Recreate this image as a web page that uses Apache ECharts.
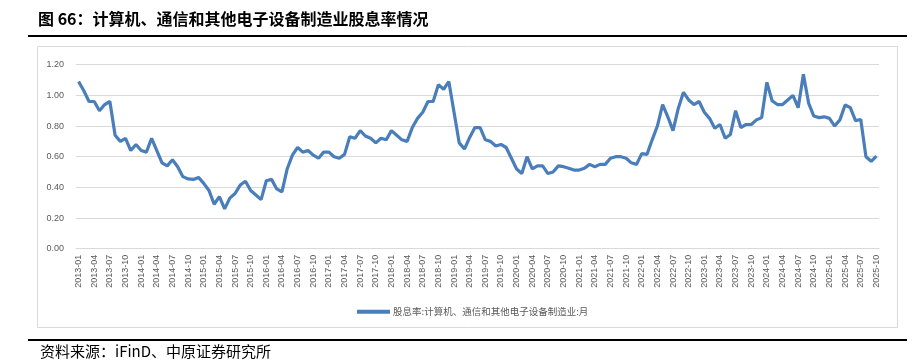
<!DOCTYPE html>
<html>
<head>
<meta charset="utf-8">
<script src="https://cdn.jsdelivr.net/npm/echarts@6/dist/echarts.min.js"></script>
<style>html,body{margin:0;padding:0;background:#fff;}#c{width:913px;height:360px;}</style>
</head>
<body>
<div id="c"></div>
<script>
const seriesName = '股息率:计算机、通信和其他电子设备制造业:月';
const startYear = 2013, startMonth = 1, monthCount = 154;
const yTicks = [0, 0.2, 0.4, 0.6, 0.8, 1.0, 1.2];
const values2013_2015 = [1.09,1.03,0.96,0.96,0.90,0.94,0.96,0.74,0.70,0.72,0.64,0.68,
  0.64,0.63,0.72,0.64,0.56,0.54,0.58,0.535,0.47,0.455,0.452,0.465,
  0.426,0.38,0.29,0.34,0.26,0.33,0.36,0.415,0.44,0.38,0.35,0.32];
const values2016_2018 = [0.443,0.452,0.39,0.37,0.52,0.61,0.66,0.63,0.64,0.61,0.59,0.63,
  0.63,0.60,0.59,0.615,0.73,0.72,0.77,0.735,0.72,0.69,0.72,0.71,
  0.77,0.74,0.71,0.70,0.79,0.85,0.89,0.96,0.96,1.07,1.04,1.09];
const values2019_2021 = [0.89,0.69,0.65,0.726,0.79,0.79,0.71,0.70,0.67,0.68,0.66,0.59,
  0.52,0.49,0.60,0.52,0.54,0.54,0.49,0.50,0.54,0.535,0.525,0.513,
  0.513,0.525,0.55,0.535,0.55,0.55,0.59,0.60,0.60,0.59,0.56,0.55];
const values2022_2025 = [0.62,0.615,0.71,0.80,0.94,0.86,0.77,0.915,1.02,0.97,0.94,0.96,
  0.89,0.85,0.785,0.81,0.72,0.745,0.90,0.79,0.81,0.81,0.84,0.855,
  1.085,0.965,0.94,0.94,0.97,1.00,0.92,1.137,0.95,0.865,0.855,0.86,
  0.85,0.80,0.84,0.937,0.92,0.835,0.843,0.60,0.57,0.604];
const values = [].concat(values2013_2015, values2016_2018, values2019_2021, values2022_2025);
const categories = [];
for (let i = 0; i < monthCount; i++) {
  const m = startMonth - 1 + i;
  const y = startYear + Math.floor(m / 12);
  const mm = (m % 12) + 1;
  categories.push(y + '-' + (mm < 10 ? '0' + mm : '' + mm));
}

const chart = echarts.init(document.getElementById('c'), null, {renderer: 'canvas'});
const labelColor = '#595959';
const gridColor = '#d9d9d9';
chart.setOption({
  animation: false,
  backgroundColor: '#fff',
  textStyle: {fontFamily: '"Liberation Sans", "Noto Sans CJK SC", sans-serif'},
  graphic: [
    {type: 'text', left: 38, top: 11, style: {text: '图 66：计算机、通信和其他电子设备制造业股息率情况', font: 'bold 16px "Noto Sans CJK SC", sans-serif', fill: '#000'}},
    {type: 'rect', shape: {x: 28, y: 35, width: 879, height: 2}, style: {fill: '#000'}},
    {type: 'rect', shape: {x: 37.5, y: 46.5, width: 860, height: 281}, style: {fill: 'none', stroke: '#d9d9d9', lineWidth: 1}, z: -1},
    {type: 'rect', shape: {x: 28, y: 339, width: 879, height: 2}, style: {fill: '#000'}},
    {type: 'text', left: 40, top: 344, style: {text: '资料来源：iFinD、中原证券研究所', font: '15px "Noto Sans CJK SC", sans-serif', fill: '#000'}}
  ],
  grid: {left: 76, top: 64.7, width: 803, height: 184, containLabel: false},
  legend: {
    data: [seriesName],
    left: 352, top: 302,
    icon: 'rect', itemWidth: 33, itemHeight: 4, itemGap: 4,
    textStyle: {color: labelColor, fontSize: 9.5, fontFamily: '"Noto Sans CJK SC", sans-serif', padding: [0,0,0,-2]}
  },
  xAxis: {
    type: 'category',
    data: categories,
    boundaryGap: true,
    axisLine: {lineStyle: {color: gridColor}},
    axisTick: {interval: 2, length: 4, lineStyle: {color: gridColor}},
    axisLabel: {interval: 2, rotate: 90, color: labelColor, fontSize: 9, margin: 6, fontFamily: '"Liberation Sans", sans-serif'},
    splitLine: {show: false}
  },
  yAxis: {
    type: 'value',
    min: 0, max: 1.2, interval: 0.2,
    axisLine: {show: false},
    axisTick: {show: false},
    axisLabel: {color: labelColor, fontSize: 9, margin: 12, formatter: v => v.toFixed(2), fontFamily: '"Liberation Sans", sans-serif'},
    splitLine: {lineStyle: {color: gridColor, width: 1}}
  },
  series: [{
    name: seriesName,
    type: 'line',
    data: values,
    symbol: 'none',
    smooth: false,
    lineStyle: {color: '#4a7ebb', width: 3.2},
    itemStyle: {color: '#4a7ebb'}
  }]
});
</script>
</body>
</html>
